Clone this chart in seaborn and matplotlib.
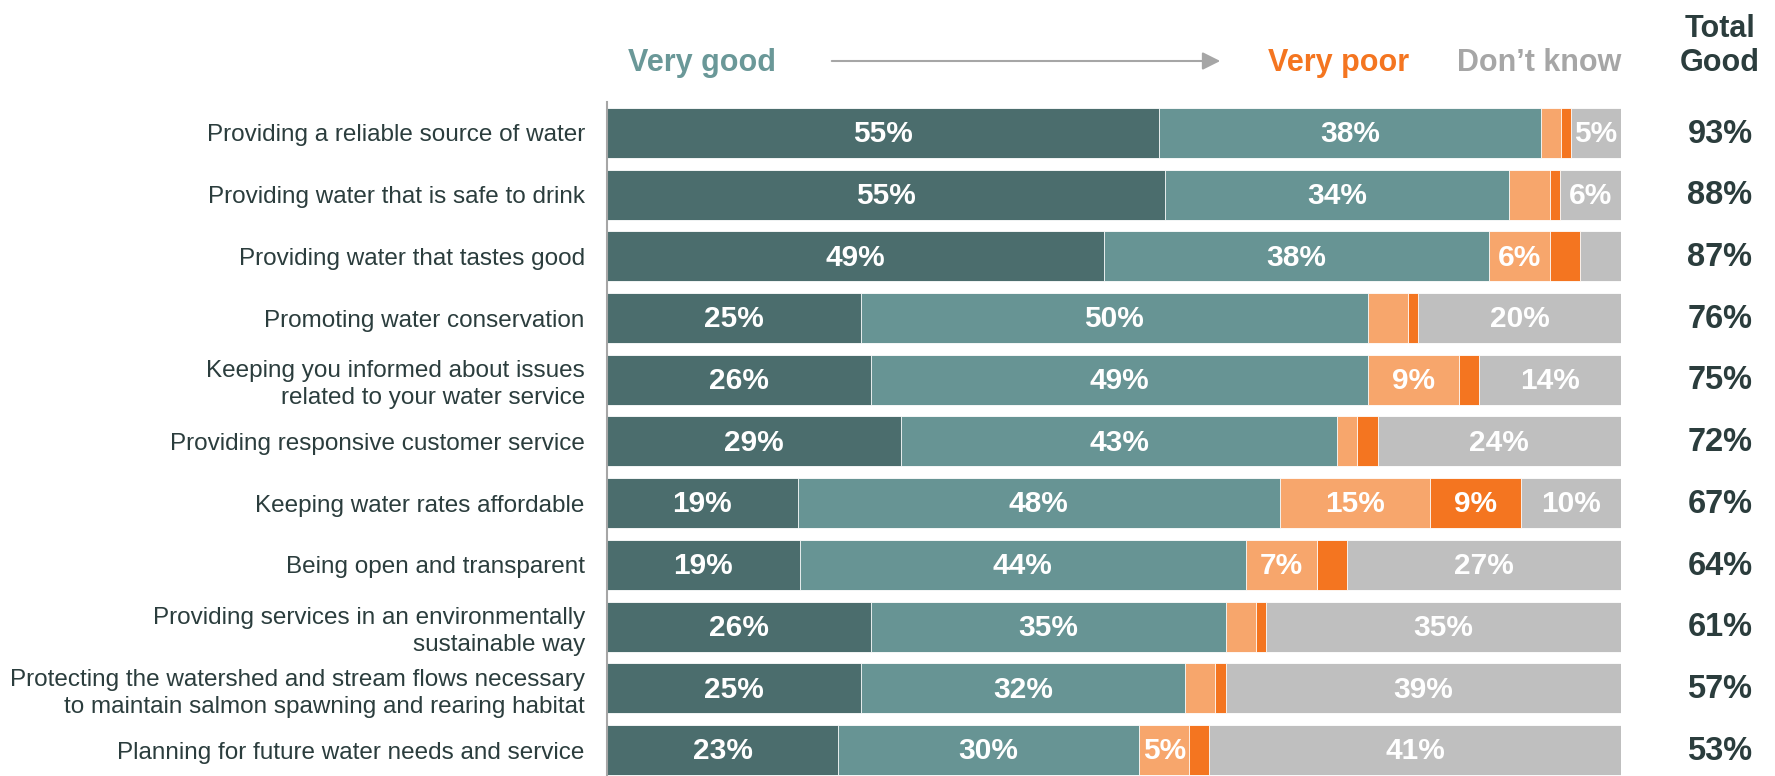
# Water utility performance ratings - 100% stacked horizontal bars

import numpy as np
import pandas as pd
import matplotlib
matplotlib.use("Agg")
import matplotlib.pyplot as plt
import matplotlib.transforms as mtransforms
import seaborn as sns

# Data
categories = [
    "Providing a reliable source of water",
    "Providing water that is safe to drink",
    "Providing water that tastes good",
    "Promoting water conservation",
    "Keeping you informed about issues\nrelated to your water service",
    "Providing responsive customer service",
    "Keeping water rates affordable",
    "Being open and transparent",
    "Providing services in an environmentally\nsustainable way",
    "Protecting the watershed and stream flows necessary\nto maintain salmon spawning and rearing habitat",
    "Planning for future water needs and service",
]
very_good = [55, 55, 49, 25, 26, 29, 19, 19, 26, 25, 23]
good = [38, 34, 38, 50, 49, 43, 48, 44, 35, 32, 30]
poor = [2, 4, 6, 4, 9, 2, 15, 7, 3, 3, 5]
very_poor = [1, 1, 3, 1, 2, 2, 9, 3, 1, 1, 2]
dont_know = [5, 6, 4, 20, 14, 24, 10, 27, 35, 39, 41]
total_good = [93, 88, 87, 76, 75, 72, 67, 64, 61, 57, 53]

segments = ["Very good", "Good", "Poor", "Very poor", "Don't know"]
colors = ["#4b6d6d", "#679494", "#f7a66c", "#f47520", "#bfbfbf"]
text_dark = "#2b3d3d"

# Build table and normalise each row to 100%
df = pd.DataFrame(
    {
        "category": categories,
        "Very good": very_good,
        "Good": good,
        "Poor": poor,
        "Very poor": very_poor,
        "Don't know": dont_know,
    }
)
raw = df[segments].to_numpy(dtype=float)
share = raw / raw.sum(axis=1, keepdims=True) * 100
cum = np.cumsum(share, axis=1)

sns.set_theme(style="white")
plt.rcParams["font.family"] = ["Liberation Sans", "DejaVu Sans"]

fig = plt.figure(figsize=(17.75, 7.76), dpi=100)
ax = fig.add_axes([607 / 1775, 0, 1014 / 1775, 674 / 776])

# Draw cumulative bars from the widest down so they stack visually
for k in range(len(segments) - 1, -1, -1):
    sns.barplot(
        x=cum[:, k],
        y=categories,
        order=categories,
        orient="h",
        color=colors[k],
        width=0.81,
        saturation=1,
        edgecolor="white",
        linewidth=0.6,
        ax=ax,
    )

# Percent labels inside segments (only for 5% and above)
for i in range(len(categories)):
    for k in range(len(segments)):
        if raw[i, k] >= 5:
            xc = cum[i, k] - share[i, k] / 2
            ax.text(
                xc, i + 0.02, f"{int(raw[i, k])}%",
                ha="center", va="center", color="white",
                fontsize=21.5, fontweight="bold",
            )

ax.set_xlim(0, 100)
ax.set_ylim(10.42, -0.5)
ax.set_xlabel("")
ax.set_ylabel("")
ax.set_xticks([])
ax.tick_params(axis="y", length=0, pad=16, labelsize=17.5, labelcolor=text_dark)
for lab in ax.get_yticklabels():
    lab.set_linespacing(1.3)
for side in ["top", "right", "bottom"]:
    ax.spines[side].set_visible(False)
ax.spines["left"].set_color("#a6a6a6")
ax.spines["left"].set_linewidth(1.5)

# Total good column
trans = mtransforms.blended_transform_factory(fig.transFigure, ax.transData)
for i, t in enumerate(total_good):
    ax.text(
        1720 / 1775, i + 0.02, f"{t}%", transform=trans,
        ha="center", va="center", color=text_dark,
        fontsize=23.5, fontweight="bold",
    )

# Header row
hy = 1 - 63 / 776
fig.text(702 / 1775, hy, "Very good", ha="center", va="center",
         color="#6a9898", fontsize=22, fontweight="bold")
fig.text(1339 / 1775, hy, "Very poor", ha="center", va="center",
         color="#f47520", fontsize=22, fontweight="bold")
fig.text(1621 / 1775, hy, "Don\u2019t know", ha="right", va="center",
         color="#a6a6a6", fontsize=22, fontweight="bold")
fig.text(1720 / 1775, 1 - 46 / 776, "Total\nGood", ha="center", va="center",
         color=text_dark, fontsize=22, fontweight="bold", linespacing=1.2)
ax.annotate(
    "", xy=(1223 / 1775, 1 - 61 / 776), xytext=(829 / 1775, 1 - 61 / 776),
    xycoords="figure fraction", textcoords="figure fraction",
    arrowprops=dict(arrowstyle="-|>,head_length=0.9,head_width=0.45",
                    color="#a6a6a6", lw=1.5),
)

fig.savefig("out.png", dpi=100)
